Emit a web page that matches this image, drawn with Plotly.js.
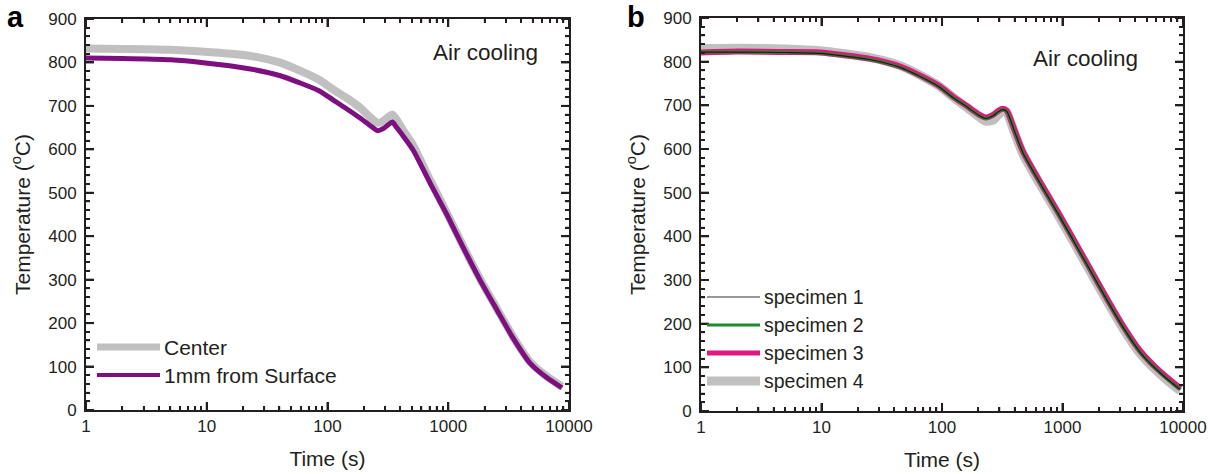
<!DOCTYPE html>
<html>
<head>
<meta charset="utf-8">
<script src="https://cdn.plot.ly/plotly-3.0.1.min.js"></script>
<style>html,body{margin:0;padding:0;background:#fff;}#chart{width:1218px;height:474px;}</style>
</head>
<body>
<div id="chart"></div>
<script>
// ---------- Panel a data ----------
const timeA = [1, 2, 5, 9, 23, 40, 59, 85, 111, 150, 186, 225, 260, 290, 320, 345, 370, 420, 510, 706, 977, 1325, 1833, 2534, 3436, 4755, 6574, 8750];
const centerA = [832, 831, 829, 825, 815, 800, 781, 760, 738, 715, 696, 674, 661, 665, 675, 680, 670, 645, 610, 530, 453, 378, 302, 233, 169, 111, 77, 54];
const surfaceA = [810, 809, 806, 800, 785, 770, 753, 735, 714, 690, 672, 655, 643, 648, 657, 663, 652, 632, 599, 523, 449, 375, 299, 230, 166, 108, 74, 51];

// ---------- Panel b data ----------
const timeB = [1, 2, 5, 9.7, 25, 45, 66, 95, 123, 160, 200, 230, 265, 295, 320, 345, 400, 470, 650, 900, 1222, 1691, 2340, 3177, 4397, 6085, 8920, 9500];
const spec1 = [822, 822, 821, 819, 805, 787, 766, 742, 718, 697, 678, 670, 676, 686, 690, 686, 640, 591, 522, 456, 392, 323, 254, 192, 135, 94, 55, 50];
const spec2 = [822, 822, 821, 819, 805, 787, 766, 742, 718, 697, 678, 670, 676, 686, 690, 686, 640, 591, 522, 456, 392, 323, 254, 192, 135, 94, 55, 50];
const spec3 = [821, 823, 822, 821, 807, 789, 768, 744, 720, 699, 680, 672, 678, 688, 692, 688, 643, 594, 525, 459, 395, 326, 257, 195, 138, 97, 58, 52];
const spec4 = [830, 831, 829, 825, 810, 791, 769, 744, 719, 695, 675, 664, 666, 679, 686, 683, 637, 588, 519, 453, 389, 320, 251, 189, 132, 91, 52, 47];

const seriesNamesA = ["Center", "1mm from Surface"];
const seriesNamesB = ["specimen 1", "specimen 2", "specimen 3", "specimen 4"];
const xTickVals = [1, 10, 100, 1000, 10000];
const xTickText = ["1", "10", "100", "1000", "10000"];
const yTickVals = [0, 100, 200, 300, 400, 500, 600, 700, 800, 900];

// ---------- styling ----------
const W = 1218, H = 474;
const px = x => x / W;
const py = y => 1 - y / H;
const FONT = "Liberation Sans, Arial, sans-serif";
const INK = "#231f20";
const GRAY = "#c0c0c0", PURPLE = "#7e0f80", MAGENTA = "#e0187e", GREEN = "#1e8a2a", BLACK = "#1a1a1a";
const X_RANGE = [0, 4], Y_RANGE = [0, 900];

const minorX = [];
[1, 10, 100, 1000].forEach(d => { for (let k = 2; k <= 9; k++) minorX.push(d * k); });
const minorY = [];
for (let v = 20; v < 900; v += 20) if (v % 100 !== 0) minorY.push(v);

function xAxis(domain, anchor) {
  return {
    domain: domain, anchor: anchor, type: "log", range: X_RANGE,
    tickmode: "array", tickvals: xTickVals, ticktext: xTickText,
    ticks: "inside", ticklen: 8, tickwidth: 2, tickcolor: INK,
    minor: {tickmode: "array", tickvals: minorX, ticks: "inside", ticklen: 4, tickwidth: 1.5, tickcolor: INK},
    showline: true, linecolor: INK, linewidth: 2, mirror: "ticks", layer: "above traces",
    showgrid: false,
    tickfont: {family: FONT, size: 17, color: INK},
    title: {text: "Time (s)", font: {family: FONT, size: 21, color: INK}, standoff: 16}
  };
}
function yAxis(domain, anchor) {
  return {
    domain: domain, anchor: anchor, range: Y_RANGE,
    tickmode: "array", tickvals: yTickVals,
    ticks: "inside", ticklen: 8, tickwidth: 2, tickcolor: INK,
    minor: {dtick: 20, ticks: "inside", ticklen: 4, tickwidth: 1.5, tickcolor: INK},
    showline: true, linecolor: INK, linewidth: 2, mirror: "ticks", layer: "above traces",
    showgrid: false, zeroline: false,
    tickfont: {family: FONT, size: 17, color: INK},
    ticklabelstandoff: 4,
    title: {text: "Temperature (<sup>o</sup>C)", font: {family: FONT, size: 21, color: INK}, standoff: 12}
  };
}

const traces = [
  {x: timeA, y: centerA, name: seriesNamesA[0], xaxis: "x", yaxis: "y", mode: "lines",
   line: {color: GRAY, width: 8, shape: "spline", smoothing: 0.6}},
  {x: timeA, y: surfaceA, name: seriesNamesA[1], xaxis: "x", yaxis: "y", mode: "lines",
   line: {color: PURPLE, width: 5, shape: "spline", smoothing: 0.6}},
  {x: timeB, y: spec4, name: seriesNamesB[3], xaxis: "x2", yaxis: "y2", mode: "lines",
   line: {color: GRAY, width: 9, shape: "spline", smoothing: 0.6}},
  {x: timeB, y: spec3, name: seriesNamesB[2], xaxis: "x2", yaxis: "y2", mode: "lines",
   line: {color: MAGENTA, width: 6, shape: "spline", smoothing: 0.6}},
  {x: timeB, y: spec2, name: seriesNamesB[1], xaxis: "x2", yaxis: "y2", mode: "lines",
   line: {color: GREEN, width: 3, shape: "spline", smoothing: 0.6}},
  {x: timeB, y: spec1, name: seriesNamesB[0], xaxis: "x2", yaxis: "y2", mode: "lines",
   line: {color: BLACK, width: 1.2, shape: "spline", smoothing: 0.6}}
];

const shapes = [], annotations = [];

// tick marks inside all four sides of each frame (positions follow the axis ranges)
function addTicks(xa, ya, wPx, hPx) {
  const xf = v => (Math.log10(v) - X_RANGE[0]) / (X_RANGE[1] - X_RANGE[0]);
  const yf = v => (v - Y_RANGE[0]) / (Y_RANGE[1] - Y_RANGE[0]);
  const xt = (v, len, lw) => {
    const f = xf(v), l = len / hPx;
    shapes.push({type: "line", xref: xa + " domain", yref: ya + " domain", x0: f, x1: f, y0: 0, y1: l, line: {color: INK, width: lw}});
    shapes.push({type: "line", xref: xa + " domain", yref: ya + " domain", x0: f, x1: f, y0: 1, y1: 1 - l, line: {color: INK, width: lw}});
  };
  const yt = (v, len, lw) => {
    const f = yf(v), l = len / wPx;
    shapes.push({type: "line", xref: xa + " domain", yref: ya + " domain", x0: 0, x1: l, y0: f, y1: f, line: {color: INK, width: lw}});
    shapes.push({type: "line", xref: xa + " domain", yref: ya + " domain", x0: 1, x1: 1 - l, y0: f, y1: f, line: {color: INK, width: lw}});
  };
  xTickVals.forEach(v => xt(v, 8, 2));
  minorX.forEach(v => xt(v, 4, 1.5));
  yTickVals.forEach(v => yt(v, 8, 2));
  minorY.forEach(v => yt(v, 4, 1.5));
}
addTicks("x", "y", 569 - 86, 410 - 19);
addTicks("x2", "y2", 1183 - 701, 411 - 18);

// manual legends (line samples + labels)
const legA = [
  {y: 347, color: GRAY, width: 7, text: seriesNamesA[0]},
  {y: 375, color: PURPLE, width: 4, text: seriesNamesA[1]}
];
const legB = [
  {y: 297, color: "#333", width: 1, text: seriesNamesB[0]},
  {y: 325, color: GREEN, width: 3, text: seriesNamesB[1]},
  {y: 353, color: MAGENTA, width: 5, text: seriesNamesB[2]},
  {y: 381, color: GRAY, width: 9, text: seriesNamesB[3]}
];
function addLegend(items, x0, x1, fs) {
  items.forEach(it => {
    shapes.push({type: "line", xref: "paper", yref: "paper", x0: px(x0), x1: px(x1), y0: py(it.y), y1: py(it.y),
      line: {color: it.color, width: it.width}});
    annotations.push({xref: "paper", yref: "paper", x: px(x1 + 2), y: py(it.y), xanchor: "left", yanchor: "middle",
      text: it.text, showarrow: false, font: {family: FONT, size: fs, color: INK}});
  });
}
addLegend(legA, 97, 160, 21);
addLegend(legB, 707, 760, 19.5);

annotations.push(
  {xref: "paper", yref: "paper", x: px(485), y: py(53), text: "Air cooling", showarrow: false,
   xanchor: "center", yanchor: "middle", font: {family: FONT, size: 22.5, color: INK}},
  {xref: "paper", yref: "paper", x: px(1085), y: py(58), text: "Air cooling", showarrow: false,
   xanchor: "center", yanchor: "middle", font: {family: FONT, size: 22.5, color: INK}},
  {xref: "paper", yref: "paper", x: px(15), y: py(17), text: "<b>a</b>", showarrow: false,
   xanchor: "center", yanchor: "middle", font: {family: FONT, size: 29, color: "#000"}},
  {xref: "paper", yref: "paper", x: px(636), y: py(17), text: "<b>b</b>", showarrow: false,
   xanchor: "center", yanchor: "middle", font: {family: FONT, size: 29, color: "#000"}}
);

const layout = {
  width: W, height: H,
  margin: {l: 0, r: 0, t: 0, b: 0},
  showlegend: false,
  xaxis: xAxis([px(86), px(569)], "y"),
  yaxis: yAxis([py(410), py(19)], "x"),
  xaxis2: xAxis([px(701), px(1183)], "y2"),
  yaxis2: yAxis([py(411), py(18)], "x2"),
  shapes: shapes,
  annotations: annotations
};

Plotly.newPlot("chart", traces, layout, {displayModeBar: false});
</script>
</body>
</html>
